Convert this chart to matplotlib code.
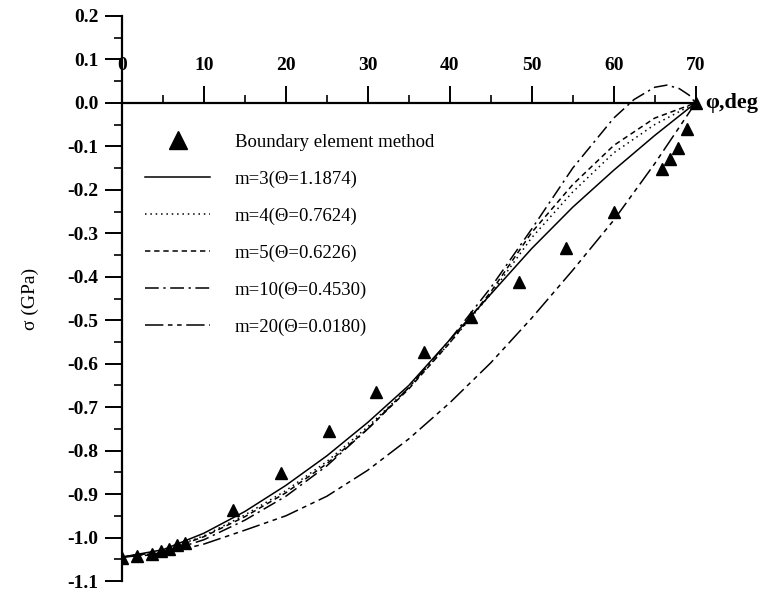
import numpy as np
import matplotlib
matplotlib.use("Agg")
import matplotlib.pyplot as plt
from matplotlib.ticker import MultipleLocator

plt.rcParams['font.family'] = ['Liberation Serif', 'DejaVu Serif']
plt.rcParams['axes.unicode_minus'] = False

# boundary element method points
bem_phi = [0, 1.8, 3.6, 4.7, 5.7, 6.7, 7.7, 13.5, 19.35, 25.2, 31.05, 36.8,
           42.6, 48.45, 54.2, 60.1, 65.9, 66.9, 67.9, 68.9, 70]
bem_sig = [-1.047, -1.043, -1.037, -1.030, -1.026, -1.017, -1.013, -0.937,
           -0.851, -0.754, -0.664, -0.573, -0.492, -0.411, -0.333, -0.252,
           -0.152, -0.129, -0.104, -0.060, 0.0]

# analytic curves
phi = [0, 5, 10, 15, 20, 25, 30, 35, 40, 45, 50, 55, 60, 65, 70]
sig_m3 = [-1.045, -1.028, -0.990, -0.940, -0.880, -0.812, -0.735, -0.650,
          -0.545, -0.440, -0.335, -0.240, -0.155, -0.075, 0.0]
sig_m4 = [-1.045, -1.031, -0.996, -0.948, -0.892, -0.825, -0.745, -0.655,
          -0.552, -0.440, -0.310, -0.205, -0.115, -0.050, 0.0]
sig_m5 = [-1.045, -1.032, -0.998, -0.952, -0.897, -0.830, -0.750, -0.658,
          -0.552, -0.435, -0.298, -0.188, -0.098, -0.035, 0.0]
phi_m10 = [0, 5, 10, 15, 20, 25, 30, 35, 40, 45, 50, 55, 60, 62.5, 65, 66.5,
           68, 69.2, 70]
sig_m10 = [-1.045, -1.035, -1.005, -0.960, -0.905, -0.835, -0.750, -0.655,
           -0.545, -0.425, -0.290, -0.150, -0.035, 0.008, 0.036, 0.041,
           0.033, 0.018, 0.0]
sig_m20 = [-1.045, -1.038, -1.015, -0.983, -0.950, -0.905, -0.845, -0.773,
           -0.690, -0.598, -0.495, -0.385, -0.270, -0.140, 0.0]

labels = ["Boundary element method", "m=3(\u0398=1.1874)", "m=4(\u0398=0.7624)",
          "m=5(\u0398=0.6226)", "m=10(\u0398=0.4530)", "m=20(\u0398=0.0180)"]

yticks = np.round(np.arange(-1.1, 0.21, 0.1), 1)
ytick_labels = ["%.1f" % v for v in yticks]
ytick_labels = [s.replace("-0.0", "0.0") for s in ytick_labels]

fig = plt.figure(figsize=(7.64, 5.95), dpi=100)
ax = fig.add_axes([122 / 764, 14 / 595, 590 / 764, 565 / 595])

lw = 1.1
ax.plot(bem_phi, bem_sig, linestyle='none', marker='^', color='black',
        markersize=8, label=labels[0], zorder=5)
ax.plot(phi, sig_m3, color='black', lw=lw, label=labels[1])
ax.plot(phi, sig_m4, color='black', lw=lw, linestyle=(0, (1, 2.5)), label=labels[2])
ax.plot(phi, sig_m5, color='black', lw=lw, linestyle=(0, (3.5, 2.5)), label=labels[3])
ax.plot(phi_m10, sig_m10, color='black', lw=lw, linestyle=(0, (9, 3, 1.5, 3)),
        label=labels[4])
ax.plot(phi, sig_m20, color='black', lw=lw, linestyle=(0, (12, 3, 3, 3, 3, 3)),
        label=labels[5])

ax.set_xlim(0, 72)
ax.set_ylim(-1.1, 0.2)

# axes cross at the origin
ax.spines['right'].set_visible(False)
ax.spines['bottom'].set_visible(False)
ax.spines['top'].set_position(('data', 0))
ax.spines['top'].set_bounds(0, 70)
ax.spines['left'].set_position(('data', 0))
ax.spines['left'].set_bounds(-1.1, 0.2)
for s in ['top', 'left']:
    ax.spines[s].set_linewidth(1.6)

ax.xaxis.set_ticks_position('top')
ax.set_xticks([0, 10, 20, 30, 40, 50, 60, 70])
ax.xaxis.set_minor_locator(MultipleLocator(5))
ax.set_yticks(yticks)
ax.set_yticklabels(ytick_labels)
ax.yaxis.set_minor_locator(MultipleLocator(0.05))
ax.tick_params(axis='both', which='major', direction='out', length=12, width=1.4,
               labelsize=14)
ax.tick_params(axis='y', which='major', pad=5)
ax.tick_params(axis='x', which='major', pad=9)
ax.tick_params(axis='both', which='minor', direction='out', length=6, width=1.2)
for t in ax.get_xticklabels() + ax.get_yticklabels():
    t.set_fontweight('bold')

ax.set_ylabel("\u03c3 (GPa)", fontsize=14, labelpad=20)
ax.text(71.2, 0, "\u03c6,deg", fontsize=16, fontweight='bold', va='center', ha='left')

leg = ax.legend(loc='upper left', bbox_to_anchor=(0.01, 0.822), frameon=False,
                fontsize=13.5, handlelength=3.5, handletextpad=1.3,
                labelspacing=1.05, markerscale=1.6)

fig.savefig("out.png", dpi=100)
